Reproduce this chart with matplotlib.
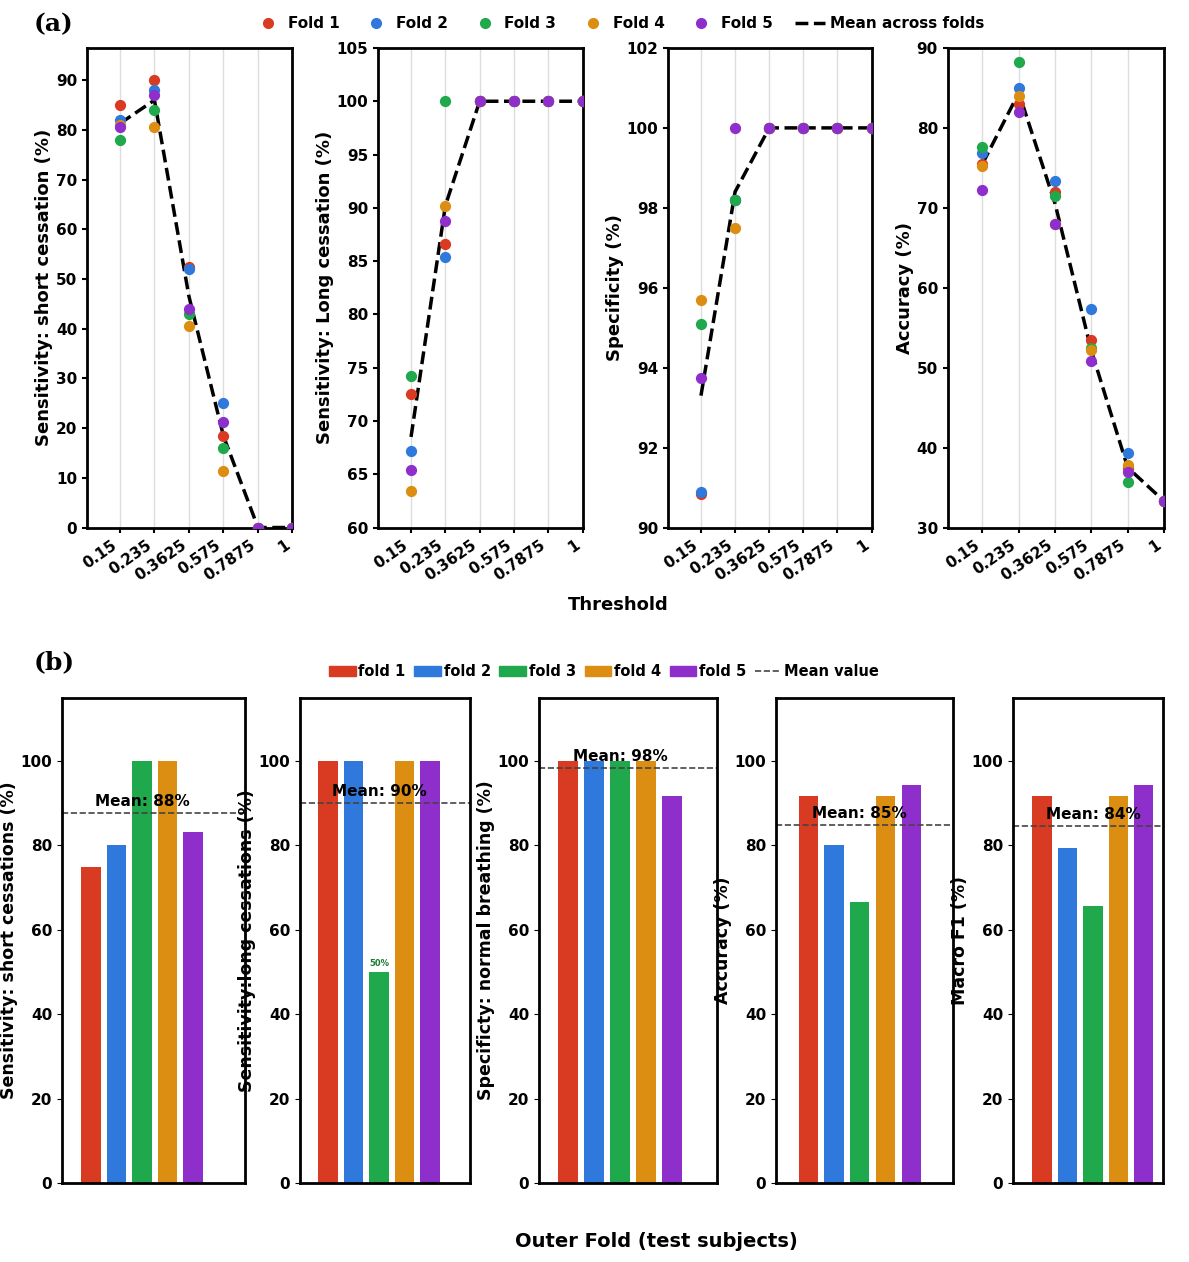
import matplotlib
matplotlib.use("Agg")
from matplotlib import pyplot as plt
from matplotlib.lines import Line2D
from matplotlib.patches import Patch

colors = ['#d93a22', '#2f78dc', '#1fa84c', '#dc8e12', '#8e2fcc']

thresholds = ['0.15', '0.235', '0.3625', '0.575', '0.7875', '1']

# panel (a): rows = folds, columns = thresholds
sens_short = [[85, 90, 52.5, 18.5, 0, 0],
              [82, 88, 52, 25, 0, 0],
              [78, 84, 43, 16, 0, 0],
              [81, 80.5, 40.5, 11.3, 0, 0],
              [80.5, 87, 44, 21.3, 0, 0]]
sens_short_mean = [81.3, 86, 46.5, 18.4, 0, 0]
sens_long = [[72.5, 86.6, 100, 100, 100, 100],
             [67.2, 85.4, 100, 100, 100, 100],
             [74.2, 100, 100, 100, 100, 100],
             [63.4, 90.2, 100, 100, 100, 100],
             [65.4, 88.8, 100, 100, 100, 100]]
sens_long_mean = [68.5, 90.2, 100, 100, 100, 100]
spec = [[90.85, 98.2, 100, 100, 100, 100],
        [90.9, 98.2, 100, 100, 100, 100],
        [95.1, 98.2, 100, 100, 100, 100],
        [95.7, 97.5, 100, 100, 100, 100],
        [93.75, 100, 100, 100, 100, 100]]
spec_mean = [93.3, 98.4, 100, 100, 100, 100]
acc = [[75.5, 83, 72, 53.5, 37.5, 33.3],
       [76.8, 85, 73.3, 57.3, 39.3, 33.3],
       [77.6, 88.3, 71.5, 52.5, 35.7, 33.3],
       [75.2, 84, 68, 52.2, 37.8, 33.3],
       [72.2, 82, 68, 50.8, 37, 33.3]]
acc_mean = [75.5, 84.4, 70.5, 52.1, 37.5, 33.3]

# panel (b)
bar_short = [75, 80, 100, 100, 83.3]
bar_long = [100, 100, 50, 100, 100]
bar_spec = [100, 100, 100, 100, 91.7]
bar_acc = [91.7, 80, 66.7, 91.7, 94.4]
bar_f1 = [91.6, 79.5, 65.6, 91.6, 94.4]
means = [87.7, 90, 98.3, 84.9, 84.6]
mean_txt = ['Mean: 88%', 'Mean: 90%', 'Mean: 98%', 'Mean: 85%', 'Mean: 84%']

plt.rcParams['font.family'] = 'DejaVu Sans'
plt.rcParams['font.size'] = 11
fig = plt.figure(figsize=(11.89, 12.62), dpi=100)

top = [(0.073, 0.173, sens_short, sens_short_mean, (0, 96.5), range(0, 91, 10), 'Sensitivity: short cessation (%)'),
       (0.318, 0.172, sens_long, sens_long_mean, (60, 105), range(60, 106, 5), 'Sensitivity: Long cessation (%)'),
       (0.562, 0.171, spec, spec_mean, (90, 102), range(90, 103, 2), 'Specificity (%)'),
       (0.797, 0.182, acc, acc_mean, (30, 90), range(30, 91, 10), 'Accuracy (%)')]
xs = list(range(1, 7))
for left, w, data, mean, yl, yt, lab in top:
    ax = fig.add_axes([left, 0.582, w, 0.380])
    ax.grid(axis='x', color='#dddddd', lw=1)
    ax.plot(xs, mean, 'k--', lw=2.5, zorder=2)
    for i in range(5):
        ax.scatter(xs, data[i], color=colors[i], s=50, zorder=3)
    ax.set_xlim(0.04, 6.0)
    ax.set_ylim(*yl)
    ax.set_yticks(list(yt))
    ax.set_xticks(xs)
    ax.set_xticklabels(thresholds, rotation=35, ha='right', fontweight='bold', fontsize=11)
    for t in ax.get_yticklabels():
        t.set_fontweight('bold')
    ax.set_ylabel(lab, fontsize=13, fontweight='bold', labelpad=2)
    for s in ax.spines.values():
        s.set_linewidth(2)
    ax.tick_params(width=1.5)
fig.text(0.52, 0.517, 'Threshold', ha='center', fontsize=13, fontweight='bold')

handles = [Line2D([], [], marker='o', ls='', color=c, markersize=7, label='Fold %d' % (i + 1)) for i, c in enumerate(colors)]
handles.append(Line2D([], [], color='k', ls='--', lw=2.5, label='Mean across folds'))
fig.legend(handles=handles, loc='center', bbox_to_anchor=(0.52, 0.981), ncol=6, frameon=False,
           prop={'weight': 'bold', 'size': 11}, handletextpad=0.3, columnspacing=1.4)
fig.text(0.028, 0.975, '(a)', fontsize=18, fontweight='bold', family='DejaVu Serif')

bottom = [(62, 245, (-0.14, 7.04), bar_short, 'Sensitivity: short cessations (%)'),
          (300, 470, (-0.1, 6.57), bar_long, 'Sensitivity:long cessations (%)'),
          (539, 717, (-0.12, 6.73), bar_spec, 'Specificty: normal breathing (%)'),
          (776, 953, (-0.25, 6.62), bar_acc, 'Accuracy (%)'),
          (1013, 1163, (-0.14, 5.75), bar_f1, 'Macro F1 (%)')]
for k, (l, r, xl, vals, lab) in enumerate(bottom):
    ax = fig.add_axes([l / 1189, 0.0626, (r - l) / 1189, 0.3845])
    ax.bar(range(1, 6), vals, width=0.75, color=colors)
    ax.axhline(means[k], color='#444444', ls='--', lw=1.2)
    ax.text(3, means[k] + 1, mean_txt[k], ha='center', va='bottom', fontsize=11, fontweight='bold')
    if k == 1:
        ax.text(3, 51, '50%', ha='center', va='bottom', fontsize=6, color='#1a7a30', fontweight='bold')
    ax.set_xlim(*xl)
    ax.set_ylim(0, 115)
    ax.set_yticks(range(0, 101, 20))
    ax.set_xticks([])
    for t in ax.get_yticklabels():
        t.set_fontweight('bold')
    ax.set_ylabel(lab, fontsize=12.5, fontweight='bold', labelpad=2)
    for s in ax.spines.values():
        s.set_linewidth(2)
fig.text(0.552, 0.012, 'Outer Fold (test subjects)', ha='center', fontsize=14, fontweight='bold')

ph = [Patch(color=c, label='fold %d' % (i + 1)) for i, c in enumerate(colors)]
ph.append(Line2D([], [], color='#444444', ls='--', lw=1.2, label='Mean value'))
fig.legend(handles=ph, loc='center', bbox_to_anchor=(0.508, 0.468), ncol=6, frameon=False,
           prop={'weight': 'bold', 'size': 10.5}, handletextpad=0.2, columnspacing=0.6, handlelength=1.8)
fig.text(0.028, 0.47, '(b)', fontsize=18, fontweight='bold', family='DejaVu Serif')

fig.savefig('out.png', dpi=100)
